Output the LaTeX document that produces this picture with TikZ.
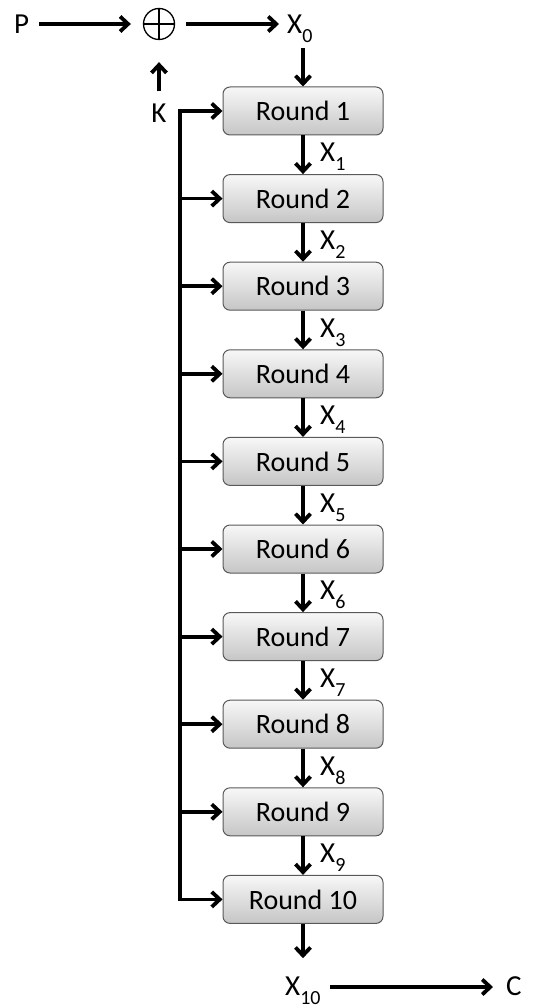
\documentclass[tikz,border=0pt]{standalone}
\usepackage{fontspec}
\setmainfont{Carlito}
\usetikzlibrary{arrows.meta, calc}

\newcommand{\xsub}[1]{\raisebox{-9pt}{\fontsize{20}{20}\selectfont #1}}

\tikzset{
  lab/.style={font=\fontsize{29}{34}\selectfont, inner sep=0pt},
  roundbox/.style={draw=black!65, line width=1pt, rounded corners=7pt,
    top color=gray!6, bottom color=gray!45, minimum width=160pt,
    minimum height=48pt, font=\fontsize{28}{32}\selectfont},
  xorc/.style={circle, draw, line width=1.3pt, minimum size=31pt, inner sep=0pt},
  wire/.style={line width=3.8pt},
  arr/.style={wire, -{Straight Barb[length=8pt,width=15pt]}}
}

\begin{document}
\begin{tikzpicture}[x=1pt, y=-1pt]
  % --- Frame ---
  \fill[white] (0,0) rectangle (534,1008);
  \useasboundingbox (0,0) rectangle (534,1008);
  % --- Whitening ---
  \node[lab, anchor=base west] (P) at (14,34) {P};
  \node[xorc] (xor) at (159,24) {};
  \draw[line width=1.3pt] (xor.north) -- (xor.south) (xor.west) -- (xor.east);
  \node[lab, anchor=base west] (X0) at (287,34) {X\xsub{0}};
  \node[lab] (K) at (159,113) {K};
  \draw[arr] ($(P.east |- xor)+(10,0)$) -- ($(xor.west)+(-12,0)$);
  \draw[arr] ($(xor.east)+(11,0)$) -- ($(X0.west |- xor)+(-8,0)$);
  \draw[arr] ($(K.north)+(0,-12)$) -- ($(xor.south)+(0,22)$);
  % --- Rounds ---
  \coordinate (bus) at (180,111);
  \foreach \i in {1,...,10} {
    \node[roundbox] (r\i) at (303,{111+87.6*(\i-1)}) {Round \i};
    \draw[arr] (r\i.west -| bus) -- (r\i.west);
  }
  \draw[wire, line cap=rect] (r1.west -| bus) -- (r10.west -| bus);
  \draw[arr] ($(r1.north |- X0.south)+(0,5)$) -- (r1.north);
  % --- Round outputs ---
  \foreach \i [evaluate=\i as \j using int(\i+1)] in {1,...,9} {
    \draw[arr] (r\i.south) -- (r\j.north);
    \node[lab, anchor=base west] (x\i) at ($(r\i.south)!0.5!(r\j.north)+(17,7)$) {X\xsub{\i}};
  }
  % --- Ciphertext ---
  \node[lab, anchor=base west] (X10) at (285,995) {X\xsub{10}};
  \node[lab, anchor=base west] (C) at (506,995) {C};
  \draw[arr] (r10.south) -- ($(r10.south |- X10.north)+(0,-18)$);
  \draw[arr] ($(X10.base east)+(9,-8)$) -- ($(C.base west)+(-13,-8)$);
\end{tikzpicture}
\end{document}
